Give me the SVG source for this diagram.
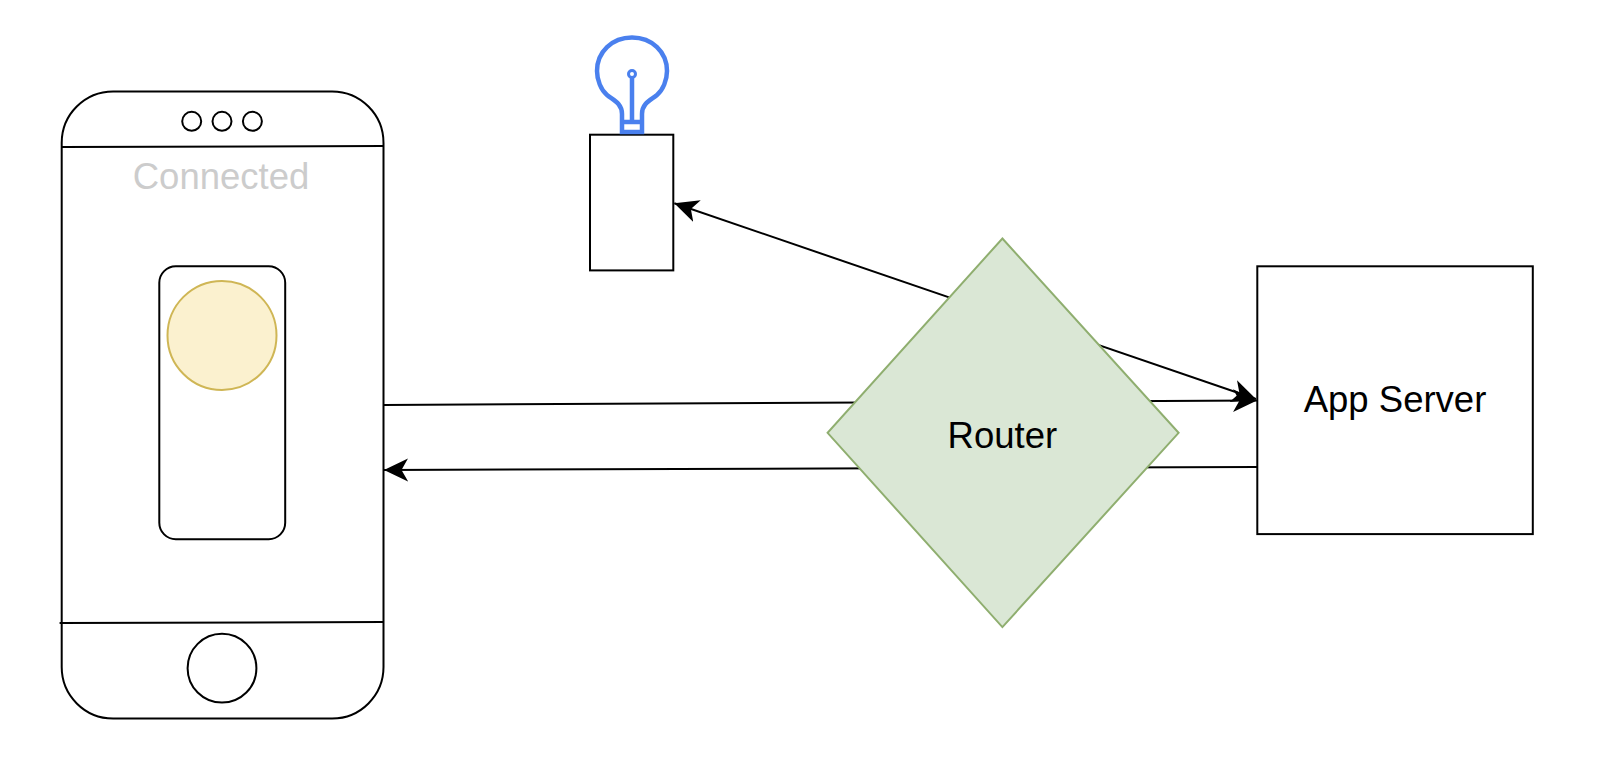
<svg xmlns="http://www.w3.org/2000/svg" width="1612" height="760" viewBox="0 0 1612 760">
<style>
.s{fill:none;stroke:#000;stroke-width:2}
.w{fill:#fff;stroke:#000;stroke-width:2}
.c{fill:none;stroke:#000;stroke-width:2}
.b{fill:none;stroke:#4a80ee;stroke-width:4.500}
text{font-family:"Liberation Sans",Arial,sans-serif;text-anchor:middle}
</style>
<defs>
<marker id="a" markerUnits="userSpaceOnUse" markerWidth="28" markerHeight="28" refX="24" refY="14" orient="auto" viewBox="0 0 28 28"><path d="M0 2.500L24 14L0 25.500L6.500 14Z" fill="#000"/></marker>
</defs>
<rect width="1612" height="760" fill="#fff"/>
<g id="phone">
<rect class="s" x="61.700" y="91.500" width="321.800" height="627" rx="51.400"/>
<path class="s" d="M61.700 147L383.500 146M59.600 623L383.500 622"/>
<circle class="s" cx="191.700" cy="121.300" r="9.500"/><circle class="s" cx="222" cy="121.300" r="9.500"/><circle class="s" cx="252.400" cy="121.300" r="9.500"/>
<circle class="s" cx="222" cy="668.200" r="34.400"/>
<text x="221" y="189" font-size="36.500" fill="#cccccc">Connected</text>
</g>
<g id="toggle">
<rect class="s" x="159.300" y="266.300" width="125.900" height="272.900" rx="16.500"/>
<circle cx="222" cy="335.400" r="54.500" fill="#fbf1cf" stroke="#cfb655" stroke-width="2"/>
</g>
<g id="bulb-device">
<rect class="w" x="590" y="134.700" width="83.300" height="135.700"/>
<path class="b" d="M622 132V114C622 103 613 100 607 95C601 90 597 80 597 71C597 52 612 37.500 632 37.500C652 37.500 667 52 667 71C667 80 663 90 657 95C651 100 642 103 642 114V132ZM622 122H642M632 122V77"/>
<circle cx="632" cy="74" r="3.500" fill="#fff" stroke="#4a80ee" stroke-width="3"/>
</g>
<g id="connectors">
<path class="c" marker-end="url(#a)" d="M1002.400 315.600L674.300 203.300"/>
<path class="c" marker-end="url(#a)" d="M1002 312L1256 399"/>
<path class="c" marker-end="url(#a)" d="M383.500 405L1257 400.500"/>
<path class="c" marker-end="url(#a)" d="M1257 467L384 470"/>
</g>
<g id="router">
<path d="M1002.400 238.500L1178.600 432.800L1002.400 627.100L827.600 432.800Z" fill="#dae7d5" stroke="#8fae6f" stroke-width="2"/>
<text x="1002.400" y="447.500" font-size="36.500" fill="#000">Router</text>
</g>
<g id="app-server">
<rect class="w" x="1257.300" y="266.300" width="275.500" height="267.800"/>
<text x="1395" y="412" font-size="36.500" fill="#000">App Server</text>
</g>
</svg>
